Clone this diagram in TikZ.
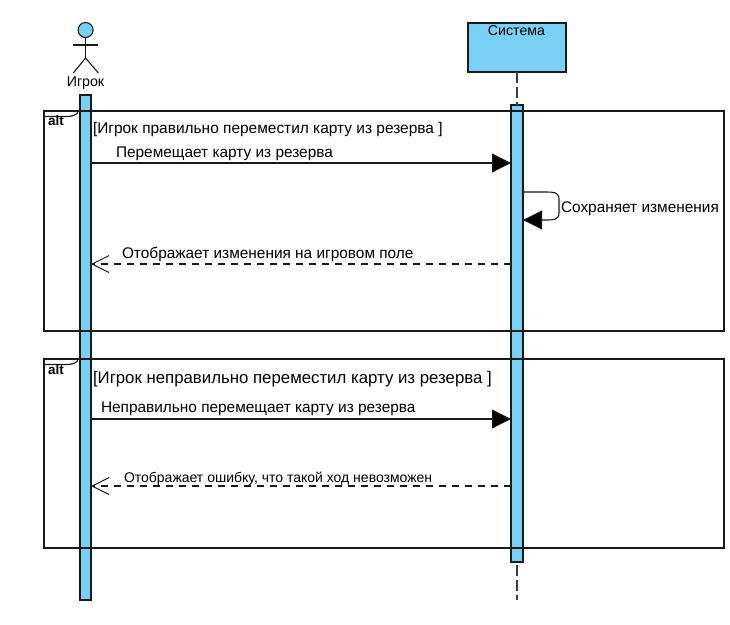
\documentclass[tikz,border=0pt]{standalone}
\usepackage{fontspec}
\setmainfont{Liberation Sans}
\usetikzlibrary{arrows.meta,calc}
\definecolor{fillblue}{HTML}{7ACFF5}
\definecolor{ln}{HTML}{1A1A1A}
\tikzset{
  x=1pt,y=-1pt,
  every node/.style={font=\fontsize{15.4}{18}\selectfont,inner sep=0pt,outer sep=0pt,text=black},
  bluebox/.style={draw=ln,fill=fillblue,line width=1.4pt,anchor=north west},
  framebox/.style={draw=ln,line width=1.5pt,anchor=north west},
  syncmsg/.style={draw=ln,line width=1.1pt,-{Triangle[length=19pt,width=19pt,fill=black]}},
  replymsg/.style={draw=ln,line width=1.1pt,dash pattern=on 7pt off 6pt,-{Straight Barb[length=17pt,width=17pt,line width=1pt]}},
  lifeline/.style={draw=ln!85,line width=1.2pt,dash pattern=on 11pt off 4pt},
  stick/.style={draw=ln,line width=1.1pt},
  msg/.style={anchor=base west},
  small/.style={font=\fontsize{14.2}{17}\selectfont},
  alttag/.style={anchor=base west,font=\fontsize{13.5}{16}\selectfont\bfseries},
}
\begin{document}
\begin{tikzpicture}
\useasboundingbox (0,0) rectangle (730,624);
\fill[white] (0,0) rectangle (730,624);
% system head
\node[bluebox,minimum width=98pt,minimum height=49pt] (sys) at (468,23) {};
\node[anchor=base,small] (syst) at (516.5,35) {Система};
% activations
\node[bluebox,minimum width=11pt,minimum height=505pt] (barL) at (80,95) {};
\node[bluebox,minimum width=12pt,minimum height=457pt] (barR) at (511,105) {};
\coordinate (end) at (517,600);
\draw[lifeline] (sys.south) -- (barR.north);
\draw[lifeline,dash phase=12pt] (barR.south) -- (end);
% frames, drawn over the activations
\node[framebox,minimum width=680pt,minimum height=220pt] (f1) at (44,111) {};
\node[framebox,minimum width=680pt,minimum height=189pt] (f2) at (44,359) {};
% actor
\node[circle,draw=ln,fill=fillblue,line width=1.1pt,minimum size=15pt] (head) at (85.6,30) {};
\coordinate (hip) at (85.6,58);
\coordinate (armL) at (73.3,45);
\coordinate (armR) at (98.3,45);
\coordinate (legL) at (73.3,73);
\coordinate (legR) at (98.3,73);
\draw[stick] (head.south) -- (hip);
\draw[stick] (armL) -- (armR);
\draw[stick] (legL) -- (hip) -- (legR);
\node[anchor=base,small] (actor) at (85.5,86) {Игрок};
% alt tabs
\coordinate (a1) at (44,116.5);
\coordinate (b1) at (78,111);
\draw[line width=1.1pt,ln] (a1) -- (66,116.5) .. controls (72,116.5) and (78,115) .. (b1);
\node[alttag] (alt1) at (48,125) {alt};
\coordinate (a2) at (44,364.5);
\coordinate (b2) at (78,359);
\draw[line width=1.1pt,ln] (a2) -- (66,364.5) .. controls (72,364.5) and (78,363) .. (b2);
\node[alttag] (alt2) at (48,374) {alt};
% guards
\node[msg,font=\fontsize{15.45}{18}\selectfont] (g1) at (93,133) {[Игрок правильно переместил карту из резерва ]};
\node[msg,font=\fontsize{16.8}{20}\selectfont] (g2) at (93,383) {[Игрок неправильно переместил карту из резерва ]};
% messages
\coordinate (m1a) at (91,163); \coordinate (m1b) at (511,163);
\draw[syncmsg] (m1a) -- (m1b);
\node[msg] (l1) at (116,157) {Перемещает карту из резерва};
\coordinate (m2a) at (523,192); \coordinate (m2b) at (523,220);
\draw[syncmsg] (m2a) -- (546,192) .. controls (553,192) and (559,192) .. (559,199) -- (559,213) .. controls (559,220) and (553,220) .. (546,220) -- (m2b);
\node[msg] (l2) at (561,212) {Сохраняет изменения};
\coordinate (m3a) at (511,264); \coordinate (m3b) at (91,264);
\draw[replymsg] (m3a) -- (m3b);
\node[msg] (l3) at (122,258) {Отображает изменения на игровом поле};
\coordinate (m4a) at (91,419); \coordinate (m4b) at (511,419);
\draw[syncmsg] (m4a) -- (m4b);
\node[msg] (l4) at (101,412.5) {Неправильно перемещает карту из резерва};
\coordinate (m5a) at (511,486); \coordinate (m5b) at (91,486);
\draw[replymsg] (m5a) -- (m5b);
\node[msg,font=\fontsize{14}{17}\selectfont] (l5) at (124,482) {Отображает ошибку, что такой ход невозможен};
\end{tikzpicture}
\end{document}
